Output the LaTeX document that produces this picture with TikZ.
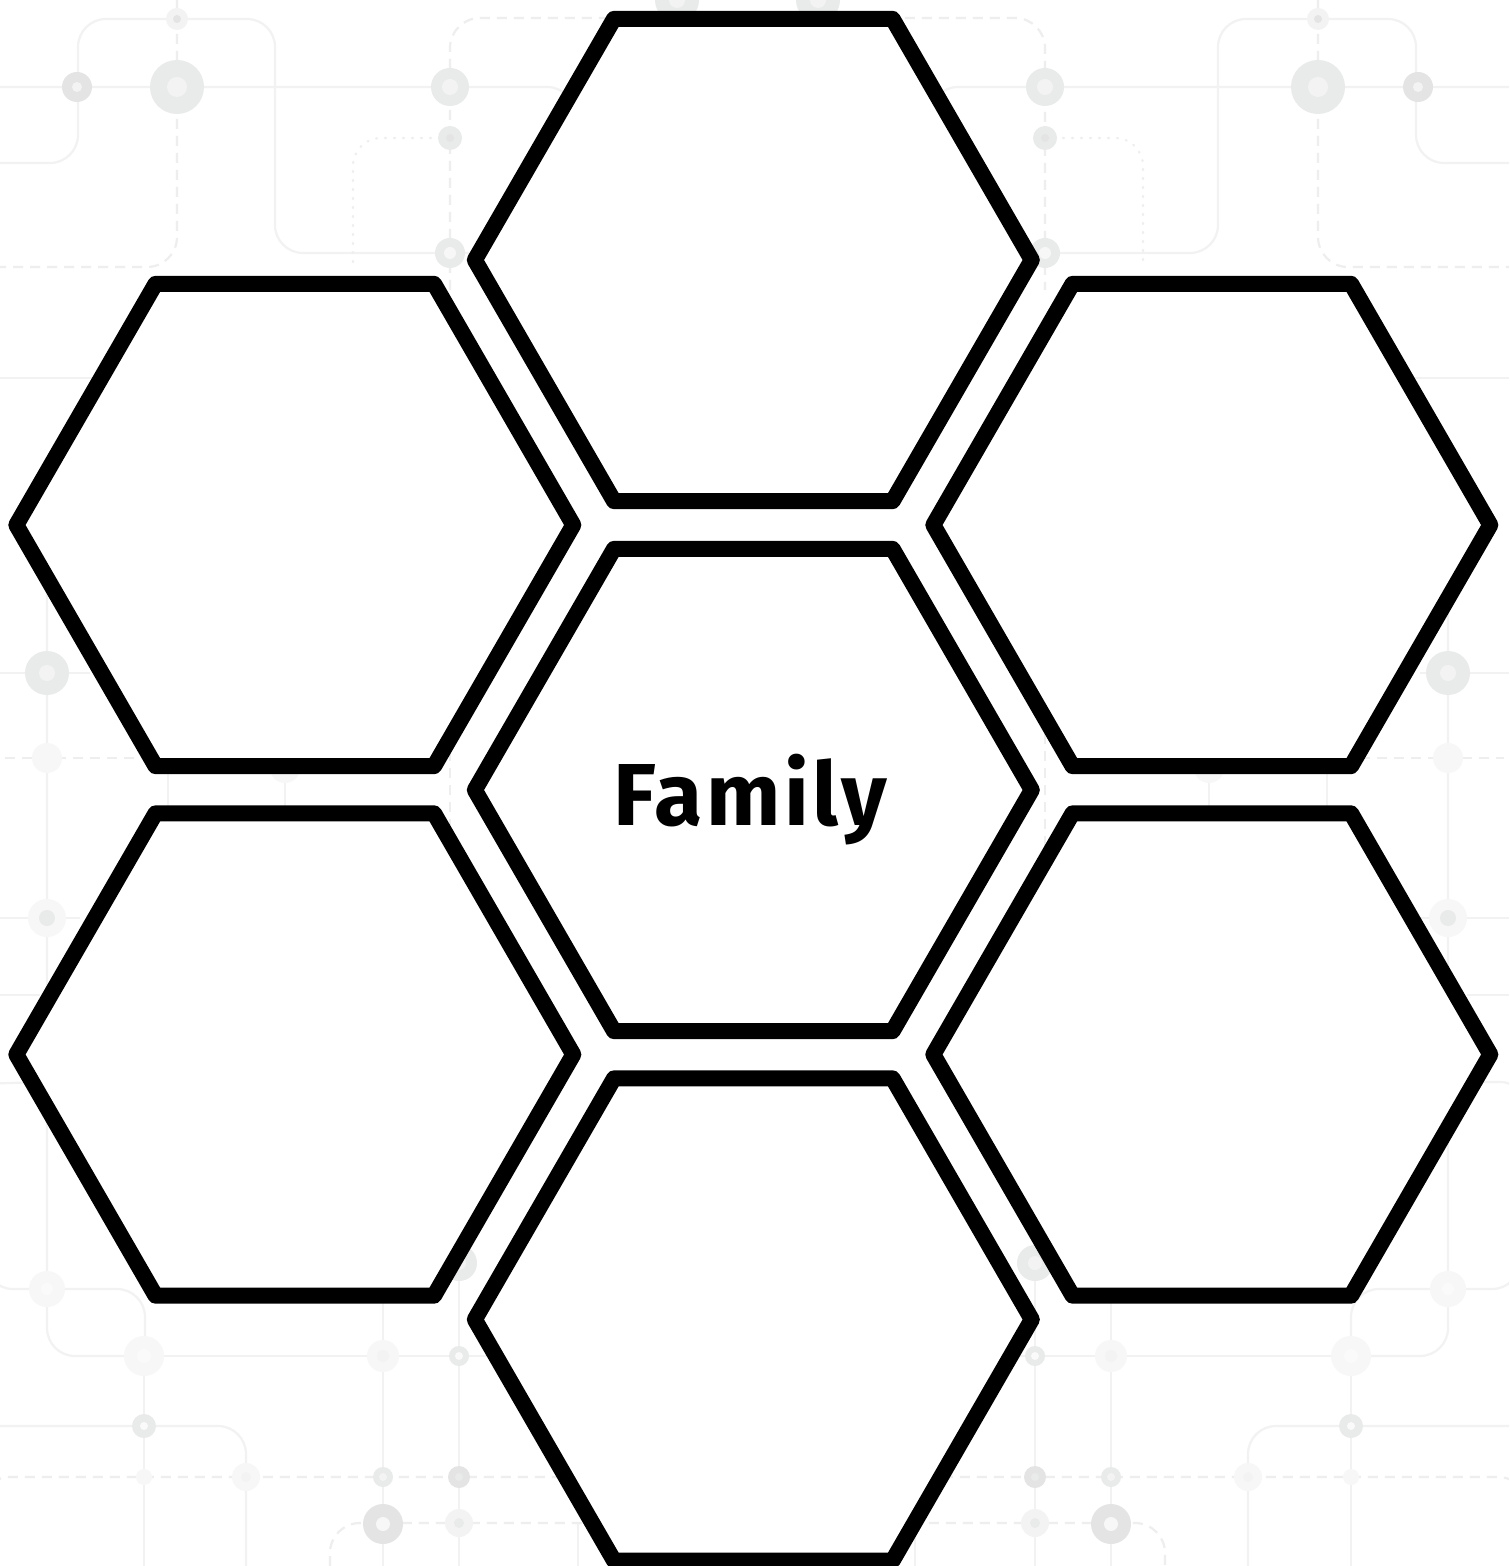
\documentclass[tikz,border=0pt]{standalone}
\usepackage{fontspec}
\setmainfont{Fira Sans}
\definecolor{bgline}{RGB}{242,242,242}
\definecolor{bgdash}{RGB}{238,238,238}
\definecolor{ringA}{RGB}{233,234,234}
\definecolor{ringB}{RGB}{243,243,243}
\definecolor{ringC}{RGB}{247,247,247}
\definecolor{ringD}{RGB}{228,228,228}
\definecolor{ringE}{RGB}{250,250,250}
\newcommand{\bgdisc}[6]{\fill[#4] (#1,#2) circle[radius=#3*0.5pt]; \fill[#5] (#1,#2) circle[radius=#6*0.5pt];}
\begin{document}
\begin{tikzpicture}[x=0.5pt,y=-0.5pt,
  hexcell/.style={draw=black,line width=8pt,fill=white,line join=round},
  bgsolid/.style={draw=bgline,line width=1.1pt,rounded corners=14pt},
  bgdashed/.style={draw=bgdash,line width=1.1pt,dash pattern=on 5pt off 3.5pt,rounded corners=15pt},
  bgdotted/.style={draw=bgdash,line width=1.1pt,dash pattern=on 0.5pt off 4pt,line cap=round,rounded corners=14pt}]
\useasboundingbox (0,0) rectangle (1509,1566);
\begin{scope}
\clip (0,0) rectangle (1509,1566);
\fill[white] (0,0) rectangle (1509,1566);
% ---------- background pattern: top ----------
\draw[bgsolid] (0,87) -- (575,87) -- (575,200);
\draw[bgsolid] (1509,87) -- (930,87) -- (930,200);
\draw[bgsolid] (0,163) -- (78,163) -- (78,19) -- (275,19) -- (275,253) -- (450,253) -- (520,253);
\draw[bgsolid] (990,253) -- (1218,253) -- (1218,19) -- (1416,19) -- (1416,163) -- (1509,163);
\draw[bgdashed] (177,0) -- (177,267) -- (0,267);
\draw[bgdashed] (1318,0) -- (1318,267) -- (1509,267);
\draw[bgdotted] (353,262) -- (353,138) -- (450,138);
\draw[bgdotted] (1045,138) -- (1143,138) -- (1143,262);
\draw[bgdashed] (450,290) -- (450,18) -- (1045,18) -- (1045,290);
\bgdisc{77}{87}{15}{ringD}{ringB}{5}
\bgdisc{177}{87}{27}{ringA}{ringB}{10}
\bgdisc{177}{19}{11}{ringB}{ringD}{4}
\bgdisc{450}{87}{19}{ringA}{ringB}{8}
\bgdisc{450}{138}{12}{ringA}{ringD}{4}
\bgdisc{450}{253}{15}{ringA}{ringC}{6}
\bgdisc{1418}{87}{15}{ringD}{ringB}{5}
\bgdisc{1318}{87}{27}{ringA}{ringB}{10}
\bgdisc{1318}{19}{11}{ringB}{ringD}{4}
\bgdisc{1045}{87}{19}{ringA}{ringB}{8}
\bgdisc{1045}{138}{12}{ringA}{ringD}{4}
\bgdisc{1045}{253}{15}{ringA}{ringC}{6}
\bgdisc{677}{0}{22}{ringA}{ringB}{8}
\bgdisc{818}{0}{22}{ringA}{ringB}{8}
% ---------- background pattern: middle ----------
\draw[bgsolid] (0,378) -- (100,378);
\draw[bgsolid] (1400,378) -- (1509,378);
\draw[bgsolid] (47,590) -- (47,1356) -- (144,1356);
\draw[bgsolid] (1448,590) -- (1448,1356) -- (1351,1356);
\draw[bgsolid] (0,673) -- (90,673);
\draw[bgsolid] (1420,673) -- (1509,673);
\draw[bgdashed] (5,758) -- (150,758);
\draw[bgdashed] (1360,758) -- (1504,758);
\draw[bgsolid] (0,918) -- (80,918);
\draw[bgsolid] (1420,918) -- (1509,918);
\draw[bgsolid] (0,995) -- (40,995);
\draw[bgsolid] (1467,995) -- (1509,995);
\draw[bgsolid] (-20,1084) -- (40,1082);
\draw[bgsolid] (1460,1082) -- (1528,1082) -- (1528,1200);
\draw[bgsolid] (168,700) -- (168,850);
\draw[bgsolid] (285,700) -- (285,850);
\draw[bgdashed] (450,700) -- (450,850);
\draw[bgdashed] (1045,700) -- (1045,850);
\draw[bgsolid] (1209,700) -- (1209,850);
\draw[bgsolid] (1327,700) -- (1327,850);
\bgdisc{47}{673}{22}{ringA}{ringB}{8}
\bgdisc{47}{758}{15}{ringC}{ringC}{5}
\bgdisc{47}{918}{19}{ringC}{ringA}{8}
\bgdisc{1448}{673}{22}{ringA}{ringB}{8}
\bgdisc{1448}{758}{15}{ringC}{ringC}{5}
\bgdisc{1448}{918}{19}{ringC}{ringA}{8}
\bgdisc{285}{768}{15}{ringC}{ringC}{5}
\bgdisc{1209}{768}{15}{ringC}{ringC}{5}
% ---------- background pattern: bottom ----------
\draw[bgsolid] (-15,1250) -- (-15,1289) -- (145,1289) -- (145,1356);
\draw[bgsolid] (1351,1356) -- (1351,1289) -- (1520,1289) -- (1520,1230);
\draw[bgsolid] (1448,1240) -- (1448,1289);
\draw[bgsolid] (144,1356) -- (520,1356);
\draw[bgsolid] (990,1356) -- (1351,1356);
\draw[bgsolid] (144,1356) -- (144,1566);
\draw[bgsolid] (1351,1356) -- (1351,1566);
\draw[bgsolid] (0,1426) -- (246,1426) -- (246,1566);
\draw[bgsolid] (1509,1426) -- (1248,1426) -- (1248,1566);
\draw[bgsolid] (383,1290) -- (383,1566);
\draw[bgsolid] (459,1240) -- (459,1566);
\draw[bgsolid] (1035,1240) -- (1035,1566);
\draw[bgsolid] (1111,1290) -- (1111,1566);
\draw[bgsolid] (578,1523) -- (578,1566);
\draw[bgsolid] (915,1523) -- (915,1566);
\draw[bgdashed] (-20,1530) -- (-20,1477) -- (1528,1477) -- (1528,1530);
\draw[bgdashed] (330,1566) -- (330,1523) -- (1165,1523) -- (1165,1566);
\bgdisc{47}{1289}{18}{ringC}{ringE}{6}
\bgdisc{1448}{1289}{18}{ringC}{ringE}{6}
\bgdisc{144}{1356}{20}{ringC}{ringE}{7}
\bgdisc{1351}{1356}{20}{ringC}{ringE}{7}
\bgdisc{383}{1356}{16}{ringC}{ringB}{6}
\bgdisc{1111}{1356}{16}{ringC}{ringB}{6}
\bgdisc{459}{1356}{10}{ringA}{ringE}{4}
\bgdisc{1035}{1356}{10}{ringA}{ringE}{4}
\bgdisc{144}{1426}{12}{ringA}{ringE}{4}
\bgdisc{1351}{1426}{12}{ringA}{ringE}{4}
\bgdisc{144}{1477}{8}{ringC}{ringC}{3}
\bgdisc{1351}{1477}{8}{ringC}{ringC}{3}
\bgdisc{246}{1477}{14}{ringC}{ringB}{5}
\bgdisc{1248}{1477}{14}{ringC}{ringB}{5}
\bgdisc{383}{1477}{10}{ringA}{ringB}{4}
\bgdisc{1111}{1477}{10}{ringA}{ringB}{4}
\bgdisc{459}{1477}{11}{ringD}{ringA}{4}
\bgdisc{1035}{1477}{11}{ringD}{ringA}{4}
\bgdisc{383}{1524}{20}{ringD}{ringC}{7}
\bgdisc{1111}{1524}{20}{ringD}{ringC}{7}
\bgdisc{459}{1523}{14}{ringB}{ringA}{5}
\bgdisc{1035}{1523}{14}{ringB}{ringA}{5}
\bgdisc{459}{1263}{18}{ringA}{ringB}{7}
\bgdisc{1035}{1263}{18}{ringA}{ringB}{7}
% ---------- hexagons ----------
\foreach \n/\cx/\cy in {top/753.3/260, mid/753.3/790, bot/753.3/1319.5, ul/294.8/525, ll/294.8/1054.5, ur/1211.8/525, lr/1211.8/1054.5} {
  \coordinate (\n) at (\cx,\cy);
  \draw[hexcell] (\cx+278.5,\cy) -- (\cx+139.25,\cy+241.2) -- (\cx-139.25,\cy+241.2) -- (\cx-278.5,\cy) -- (\cx-139.25,\cy-241.2) -- (\cx+139.25,\cy-241.2) -- cycle;
}
\node[font=\bfseries\fontsize{44}{50}\selectfont\addfontfeatures{LetterSpace=4}, anchor=base, inner sep=0pt] (family) at (750,825) {Family};
\end{scope}
\end{tikzpicture}
\end{document}
